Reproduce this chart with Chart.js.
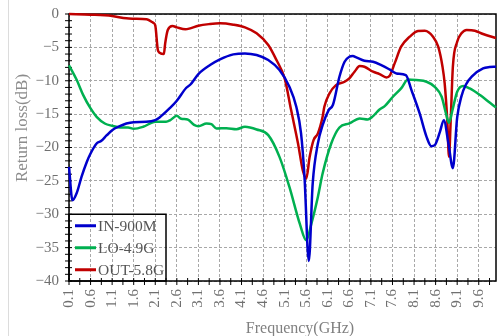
<!DOCTYPE html>
<html>
<head>
<meta charset="utf-8">
<title>Return loss</title>
<script src="https://cdn.jsdelivr.net/npm/chart.js@4.4.1/dist/chart.umd.min.js"></script>
<style>
    html, body { margin: 0; padding: 0; background: #fff; }
    #wrap { position: relative; width: 502px; height: 336px; }
    #wrap::before { content: ''; position: absolute; left: 8px; top: 0; bottom: 0; border-left: 1px solid #dcdcdc; }
    #chart { position: relative; }
</style>
</head>
<body>
<div id="wrap"><canvas id="chart" width="502" height="336"></canvas></div>
<script>
// axis ticks
const freqTicks = [0.1, 0.6, 1.1, 1.6, 2.1, 2.6, 3.1, 3.6, 4.1, 4.6, 5.1, 5.6, 6.1, 6.6, 7.1, 7.6, 8.1, 8.6, 9.1, 9.6];
const lossTicks = [0, -5, -10, -15, -20, -25, -30, -35, -40];

// IN-900M port
const inFreq = [0.1, 0.18, 0.28, 0.39, 0.51, 0.6, 0.74, 0.85, 0.97, 1.1, 1.28, 1.43, 1.6, 1.89, 2.1, 2.2, 2.43, 2.6, 2.82, 2.91, 3.1,
    3.37, 3.6, 3.91, 4.18, 4.45, 4.72, 4.98, 5.21, 5.37, 5.48, 5.56, 5.66, 5.75, 5.87, 5.98, 6.12, 6.22, 6.37, 6.49, 6.6, 6.68, 6.76,
    6.95, 7.15, 7.34, 7.53, 7.69, 7.91, 8.04, 8.23, 8.39, 8.5, 8.58, 8.7, 8.79, 8.9, 9.0, 9.1, 9.2, 9.3, 9.45, 9.7, 9.85, 10];
const inLoss = [-22.9, -27.9, -26.8, -24.4, -22.2, -20.9, -19.4, -19.0, -18.2, -17.4, -16.8, -16.4, -16.2, -16.15, -15.9, -15.5, -14.15, -13.0, -11.05, -10.6, -9.0,
    -7.65, -6.8, -6.05, -5.9, -6.15, -6.9, -8.4, -10.9, -13.9, -17.9, -24.4, -37.0, -25.4, -19.4, -16.65, -14.4, -13.6, -9.4, -7.15, -6.4, -6.3, -6.5,
    -7.0, -7.15, -7.65, -8.3, -8.9, -9.15, -11.4, -14.9, -18.4, -19.8, -19.65, -17.65, -15.9, -19.5, -23.1, -15.5, -12.3, -10.6, -9.3, -8.15, -7.95, -7.9];

// LO-4.9G port
const loFreq = [0.1, 0.28, 0.43, 0.6, 0.74, 0.93, 1.1, 1.28, 1.47, 1.6, 1.82, 2.1, 2.35, 2.45, 2.6, 2.7, 2.85, 3.0, 3.1, 3.29, 3.4,
    3.52, 3.75, 3.98, 4.18, 4.45, 4.72, 4.98, 5.21, 5.45, 5.6, 5.72, 5.87, 5.98, 6.18, 6.37, 6.6, 6.84, 7.03, 7.15, 7.3, 7.42,
    7.61, 7.8, 7.96, 8.15, 8.39, 8.58, 8.74, 8.84, 8.91, 8.99, 9.1, 9.24, 9.39, 9.63, 9.86, 10];
const loLoss = [-7.7, -9.9, -12.15, -14.15, -15.4, -16.4, -16.75, -17.0, -17.0, -17.2, -16.9, -16.15, -16.15, -15.9, -15.25, -15.7, -15.8, -16.6, -16.8, -16.4, -16.5,
    -17.15, -17.1, -17.25, -16.9, -17.3, -18.15, -21.4, -25.9, -31.4, -33.9, -31.4, -27.4, -23.9, -19.4, -17.0, -16.4, -15.65, -15.8, -15.3, -14.3, -13.8,
    -12.4, -11.15, -9.8, -9.9, -10.15, -10.9, -12.4, -14.9, -16.3, -14.4, -11.65, -10.8, -11.15, -12.15, -13.3, -14.0];

// OUT-5.8G port
const outFreq = [0.1, 0.6, 1.1, 1.43, 1.6, 1.9, 2.05, 2.1, 2.16, 2.2, 2.3, 2.33, 2.39, 2.5, 2.6, 2.8, 2.91, 3.1, 3.37, 3.6, 3.91,
    4.18, 4.45, 4.72, 4.91, 5.1, 5.25, 5.41, 5.52, 5.6, 5.68, 5.77, 5.87, 5.98, 6.02, 6.14, 6.29, 6.49, 6.6, 6.72, 6.84, 6.95,
    7.15, 7.3, 7.46, 7.53, 7.65, 7.8, 8.0, 8.19, 8.35, 8.54, 8.66, 8.76, 8.81, 8.87, 8.91, 8.95, 9.0, 9.1, 9.2, 9.32, 9.51, 9.7, 10];
const outLoss = [0, -0.1, -0.3, -0.65, -0.7, -0.8, -1.3, -1.7, -5.4, -5.8, -6.0, -4.4, -2.4, -1.8, -2.0, -2.3, -2.15, -1.75, -1.5, -1.4, -1.6,
    -2.0, -2.9, -4.65, -6.9, -9.65, -14.4, -19.4, -23.4, -24.65, -21.4, -18.9, -17.9, -15.4, -13.9, -11.9, -10.65, -10.15, -9.65, -8.65, -7.8, -7.9,
    -8.65, -9.0, -9.5, -9.3, -7.4, -4.9, -3.4, -2.55, -2.5, -3.4, -4.9, -7.9, -10.4, -15.9, -21.4, -15.9, -7.9, -4.15, -2.9, -2.4, -2.5, -3.0, -3.6];

const FONT = "'Liberation Serif', 'DejaVu Serif', serif";

function points(xs, ys) {
    return xs.map((x, i) => ({ x: x, y: ys[i] }));
}

function series(label, xs, ys, color) {
    return {
        label: label,
        data: points(xs, ys),
        borderColor: color,
        backgroundColor: color,
        borderWidth: 2.5,
        pointRadius: 0,
        fill: false,
        cubicInterpolationMode: 'monotone',
        clip: 4
    };
}

// frame, small tick marks, legend box and axis titles
const decorations = {
    id: 'decorations',
    beforeDatasetsDraw(chart) {
        const ctx = chart.ctx;
        const a = chart.chartArea;
        const xs = chart.scales.x, ys = chart.scales.y;
        ctx.save();
        ctx.strokeStyle = '#000';
        ctx.lineWidth = 1;
        ctx.beginPath();
        for (let v = -40; v <= 0; v += 1) {
            const y = ys.getPixelForValue(v);
            ctx.moveTo(a.left - 4, y);
            ctx.lineTo(a.left + 3, y);
        }
        for (let f = 0.1; f < 10; f += 0.25) {
            const x = xs.getPixelForValue(f);
            ctx.moveTo(x, a.bottom - 3);
            ctx.lineTo(x, a.bottom + 4);
        }
        ctx.stroke();
        ctx.lineWidth = 1.5;
        ctx.strokeRect(a.left, a.top, a.right - a.left, a.bottom - a.top);
        ctx.restore();
    },
    afterDatasetsDraw(chart) {
        const ctx = chart.ctx;
        const a = chart.chartArea;
        const top = chart.scales.y.getPixelForValue(-30);
        ctx.save();
        ctx.strokeStyle = '#000';
        ctx.lineWidth = 1.5;
        ctx.strokeRect(a.left, top, 97, a.bottom - top);
        ctx.font = '15.5px ' + FONT;
        ctx.textBaseline = 'middle';
        ctx.fillStyle = '#555';
        chart.data.datasets.forEach((ds, i) => {
            const y = top + 11.5 + i * 22;
            ctx.strokeStyle = ds.borderColor;
            ctx.lineWidth = 3;
            ctx.beginPath();
            ctx.moveTo(a.left + 6, y);
            ctx.lineTo(a.left + 27, y);
            ctx.stroke();
            ctx.fillText(ds.label, a.left + 29, y + 1);
        });
        ctx.restore();
    },
    afterDraw(chart) {
        const ctx = chart.ctx;
        ctx.save();
        ctx.fillStyle = '#808080';
        ctx.font = '16px ' + FONT;
        ctx.textAlign = 'center';
        ctx.textBaseline = 'alphabetic';
        ctx.fillText('Frequency(GHz)', 300, 333);
        ctx.translate(27, 128);
        ctx.rotate(-Math.PI / 2);
        ctx.font = '17px ' + FONT;
        ctx.fillStyle = '#8c8c8c';
        ctx.fillText('Return loss(dB)', 0, 0);
        ctx.restore();
    }
};

document.addEventListener('DOMContentLoaded', function() {
    const ctx = document.getElementById('chart').getContext('2d');
    new Chart(ctx, {
        type: 'line',
        data: {
            datasets: [
                series('IN-900M', inFreq, inLoss, '#0000cc'),
                series('LO-4.9G', loFreq, loLoss, '#00b050'),
                series('OUT-5.8G', outFreq, outLoss, '#c00000')
            ]
        },
        options: {
            responsive: false,
            animation: false,
            layout: { padding: { top: 14, right: 6, left: 0, bottom: 0 } },
            plugins: {
                legend: { display: false },
                tooltip: { enabled: false }
            },
            scales: {
                x: {
                    type: 'linear',
                    min: 0.1,
                    max: 10,
                    afterBuildTicks: scale => { scale.ticks = freqTicks.map(v => ({ value: v })); },
                    afterFit: scale => {
                        scale.height = 55;
                        scale.paddingLeft = 0;
                        scale.paddingRight = 0;
                    },
                    ticks: {
                        autoSkip: false,
                        minRotation: 90,
                        maxRotation: 90,
                        padding: 8,
                        color: '#707070',
                        font: { family: FONT, size: 15 },
                        callback: v => v.toFixed(1)
                    },
                    grid: { color: '#a8a8a8', lineWidth: 1, drawTicks: false },
                    border: { display: false, dash: [3, 2] }
                },
                y: {
                    min: -40,
                    max: 0,
                    afterBuildTicks: scale => { scale.ticks = lossTicks.map(v => ({ value: v })); },
                    afterFit: scale => {
                        scale.width = 69;
                        scale.paddingTop = 0;
                        scale.paddingBottom = 0;
                    },
                    ticks: {
                        padding: 10,
                        color: '#707070',
                        font: { family: FONT, size: 15 },
                        callback: v => (v < 0 ? '\u2212' + Math.abs(v) : '0')
                    },
                    grid: { color: '#a8a8a8', lineWidth: 1, drawTicks: false },
                    border: { display: false, dash: [3, 2] }
                }
            }
        },
        plugins: [decorations]
    });
});
</script>
</body>
</html>
